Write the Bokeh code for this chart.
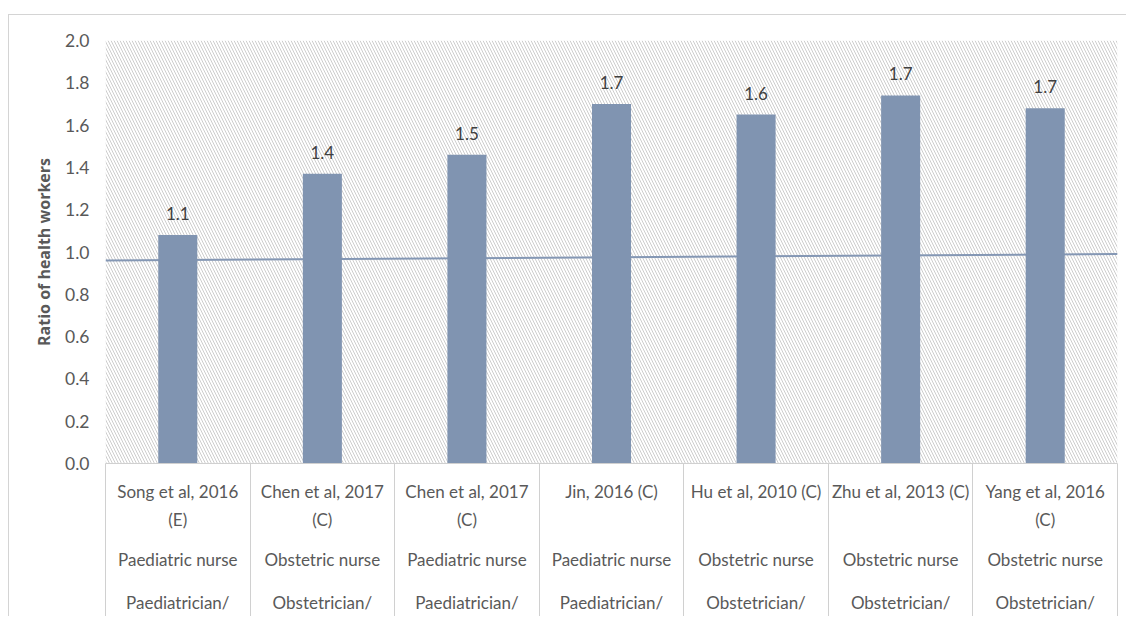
from bokeh.plotting import figure
from bokeh.models import (Range1d, FixedTicker, BoxAnnotation, LinearAxis,
                          ColumnDataSource, NumeralTickFormatter)
from bokeh.core.properties import value
from bokeh.embed import file_html
from bokeh.resources import INLINE

# ---- data ----
studies = ["Song et al, 2016\n(E)", "Chen et al, 2017\n(C)", "Chen et al, 2017\n(C)",
           "Jin, 2016 (C)", "Hu et al, 2010 (C)", "Zhu et al, 2013 (C)", "Yang et al, 2016\n(C)"]
staff = ["Paediatric nurse", "Obstetric nurse", "Paediatric nurse", "Paediatric nurse",
         "Obstetric nurse", "Obstetric nurse", "Obstetric nurse"]
denominators = ["Paediatrician/", "Obstetrician/", "Paediatrician/", "Paediatrician/",
                "Obstetrician/", "Obstetrician/", "Obstetrician/"]
ratios = [1.08, 1.37, 1.46, 1.70, 1.65, 1.74, 1.68]
ratio_labels = ["1.1", "1.4", "1.5", "1.7", "1.6", "1.7", "1.7"]
ref_line_start = 0.96
ref_line_end = 0.99
y_ticks = [0.0, 0.2, 0.4, 0.6, 0.8, 1.0, 1.2, 1.4, 1.6, 1.8, 2.0]

n = len(studies)
xs = [i + 0.5 for i in range(n)]
boundaries = list(range(n + 1))

FONT = "Lato"
GREY = "#595959"
BAR = "#8094b1"
GRIDC = "#d0d0d0"

p = figure(width=1118, height=602, output_backend="svg", toolbar_location=None,
           x_range=Range1d(0, n), y_range=Range1d(0, 2.0),
           min_border_left=96, min_border_right=10, min_border_top=25, min_border_bottom=154,
           x_axis_location=None, y_axis_location=None)
p.styles = {"margin-left": "8px", "margin-top": "14px",
            "border-left": "1px solid #d4d4d4", "border-top": "1px solid #d4d4d4"}
p.outline_line_color = None
p.grid.visible = False
p.background_fill_color = "white"
p.border_fill_color = "white"

# hatched background of plot area
p.add_layout(BoxAnnotation(fill_color="white", fill_alpha=1.0, line_color=None,
                           hatch_pattern="\\", hatch_color="#cdcdcd", hatch_scale=6,
                           hatch_weight=1, level="underlay"))

# y axis
yax = LinearAxis(ticker=FixedTicker(ticks=y_ticks),
                 formatter=NumeralTickFormatter(format="0.0"),
                 axis_label="Ratio of health workers")
yax.axis_line_color = None
yax.major_tick_line_color = None
yax.minor_tick_line_color = None
yax.major_tick_out = 0
yax.major_tick_in = 0
yax.major_label_standoff = 16
yax.major_label_text_font = FONT
yax.major_label_text_font_size = "17.5px"
yax.major_label_text_color = GREY
yax.axis_label_text_font = "Open Sans"
yax.axis_label_text_font_size = "16px"
yax.axis_label_text_font_style = "bold"
yax.axis_label_text_color = GREY
yax.axis_label_standoff = 7
p.add_layout(yax, "left")

# category table under the plot: stacked axes, one per text row
line1 = [s.split("\n")[0] for s in studies]
line2 = [s.split("\n")[1] if "\n" in s else "" for s in studies]
rows = [line1, line2, staff, denominators]
standoffs = [17, 4, 16, 19]
for k, (row, so) in enumerate(zip(rows, standoffs)):
    ax = LinearAxis(ticker=FixedTicker(ticks=xs, minor_ticks=boundaries if k == 0 else []))
    ax.major_label_overrides = {x: t for x, t in zip(xs, row)}
    ax.major_tick_line_color = None
    ax.major_tick_in = 0
    ax.major_tick_out = 0
    ax.major_label_standoff = so
    ax.major_label_text_font = FONT
    ax.major_label_text_font_size = "17px"
    ax.major_label_text_color = GREY
    if k == 0:
        ax.axis_line_color = GRIDC
        ax.minor_tick_line_color = GRIDC
        ax.minor_tick_in = -154
        ax.minor_tick_out = 0
    else:
        ax.axis_line_color = None
        ax.minor_tick_line_color = None
    p.add_layout(ax, "below")

# reference trend line
p.line(x=[0, n], y=[ref_line_start, ref_line_end], line_color="#8497b4", line_width=2)

# bars
src = ColumnDataSource(dict(x=xs, top=ratios, lab=ratio_labels))
p.vbar(x="x", top="top", bottom=0, width=0.27, source=src, fill_color=BAR, line_color=None)
p.text(x="x", y="top", text="lab", source=src, text_align="center", text_baseline="bottom",
       y_offset=-15, text_font=value(FONT), text_font_size="17px", text_color="#404040")

open("out.html", "w").write(file_html(p, INLINE))
